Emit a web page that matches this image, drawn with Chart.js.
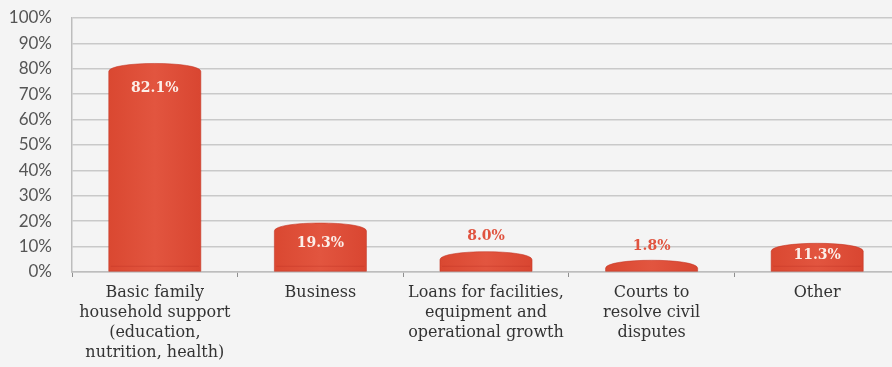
<!DOCTYPE html>
<html>
<head>
<meta charset="utf-8">
<script src="https://cdn.jsdelivr.net/npm/chart.js@4"></script>
<style>
  html, body { margin: 0; padding: 0; background: #f4f4f4; overflow: hidden; }
  #wrap { width: 900px; height: 367px; }
</style>
</head>
<body>
<div id="wrap"><canvas id="usesChart"></canvas></div>
<script>
const categories = [
  ["Basic family", "household support", "(education,", "nutrition, health)"],
  ["Business"],
  ["Loans for facilities,", "equipment and", "operational growth"],
  ["Courts to", "resolve civil", "disputes"],
  ["Other"],
];
const shares = [82.1, 19.3, 8.0, 1.8, 11.3];
const yTicks = [0, 10, 20, 30, 40, 50, 60, 70, 80, 90, 100];

const SANS = "Lato, 'DejaVu Sans', sans-serif";
const SLAB = "'DejaVu Serif', serif";

// draws each bar as a short cylinder with a domed top, plus its value label
const cylinderBars = {
  id: "cylinderBars",
  afterDatasetsDraw(chart) {
    const ctx = chart.ctx;
    const meta = chart.getDatasetMeta(0);
    meta.data.forEach((bar, i) => {
      const left = bar.x - bar.width / 2;
      const right = bar.x + bar.width / 2;
      const top = bar.y;
      const base = bar.base;
      const h = base - top;
      const dome = 8;
      // very short bars keep a small visible cap
      const shoulder = Math.min(top + dome, base - 3);
      const ctrl = shoulder - dome * 4 / 3;

      ctx.save();
      ctx.beginPath();
      ctx.moveTo(left, base);
      ctx.lineTo(left, shoulder);
      ctx.bezierCurveTo(left, ctrl, right, ctrl, right, shoulder);
      ctx.lineTo(right, base);
      ctx.closePath();
      const grad = ctx.createLinearGradient(left, 0, right, 0);
      grad.addColorStop(0, "#da4831");
      grad.addColorStop(0.5, "#e2553f");
      grad.addColorStop(1, "#d94631");
      ctx.fillStyle = grad;
      ctx.fill();
      ctx.strokeStyle = "rgba(195,55,38,0.55)";
      ctx.lineWidth = 1;
      ctx.stroke();

      // faint rim line near the foot of taller bars
      if (h > 15) {
        ctx.strokeStyle = "rgba(190,50,35,0.35)";
        ctx.beginPath();
        ctx.moveTo(left + 2, base - 5);
        ctx.lineTo(right - 2, base - 5);
        ctx.stroke();
      }

      const text = shares[i].toFixed(1) + "%";
      ctx.font = "bold 14px " + SLAB;
      ctx.textAlign = "center";
      ctx.textBaseline = "middle";
      if (h > 25) {
        ctx.fillStyle = "#fcefe9";
        ctx.fillText(text, bar.x, top + Math.min(24.5, h * 0.42));
      } else {
        ctx.fillStyle = "#e0533f";
        ctx.fillText(text, bar.x, Math.min(top - 15, base - 24.5));
      }
      ctx.restore();
    });
  },
};

new Chart(document.getElementById("usesChart"), {
  type: "bar",
  data: {
    labels: categories,
    datasets: [{
      data: shares,
      backgroundColor: "rgba(0,0,0,0)",
      borderWidth: 0,
      barPercentage: 0.556,
      categoryPercentage: 1,
    }],
  },
  options: {
    responsive: true,
    maintainAspectRatio: false,
    animation: false,
    layout: { padding: { top: 18, right: 0, left: 0, bottom: 0 } },
    plugins: { legend: { display: false }, tooltip: { enabled: false } },
    scales: {
      x: {
        grid: { drawOnChartArea: false, tickLength: 5, color: "#8f8f8f" },
        border: { color: "#bdbdbd", width: 1.5 },
        ticks: {
          color: "#333333",
          font: { family: SLAB, size: 16, lineHeight: 1.25 },
          padding: 6,
          maxRotation: 0,
          autoSkip: false,
        },
        afterFit(scale) {
          scale.height = 95;
          scale.paddingLeft = 0;
          scale.paddingRight = 0;
        },
      },
      y: {
        min: 0,
        max: 100,
        afterBuildTicks(scale) { scale.ticks = yTicks.map((v) => ({ value: v })); },
        grid: { color: "#c9c9c9", tickLength: 0, lineWidth: 1.5 },
        border: { color: "#bdbdbd", width: 1.5 },
        ticks: {
          color: "#555555",
          font: { family: SANS, size: 17 },
          padding: 20,
          callback: (v) => v + "%",
        },
        afterFit(scale) {
          scale.width = 72;
          scale.paddingTop = 0;
          scale.paddingBottom = 0;
        },
      },
    },
  },
  plugins: [cylinderBars],
});
</script>
</body>
</html>
